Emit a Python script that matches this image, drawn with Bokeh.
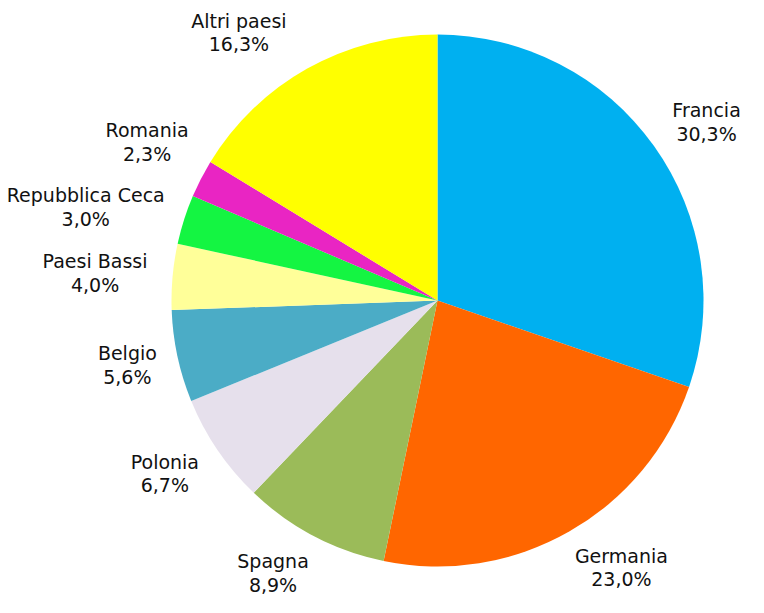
import math
from bokeh.plotting import figure
from bokeh.models import Range1d, ColumnDataSource
from bokeh.embed import file_html
from bokeh.resources import INLINE
from bokeh.core.properties import value

categories = ["Francia", "Germania", "Spagna", "Polonia", "Belgio",
              "Paesi Bassi", "Repubblica Ceca", "Romania", "Altri paesi"]
shares = [30.3, 23.0, 8.9, 6.7, 5.6, 4.0, 3.0, 2.3, 16.3]
pct_labels = ["30,3%", "23,0%", "8,9%", "6,7%", "5,6%", "4,0%", "3,0%", "2,3%", "16,3%"]
colors = ["#00B0F0", "#FF6600", "#9BBB59", "#E6E0EC", "#4BACC6",
          "#FFFF99", "#14F542", "#E925C3", "#FFFF00"]

FONT = "DejaVu Sans"
FS = 19
LINE_H = 23.5
R = 266
R_ANCHOR = R + 18
MIN_SEP = 65
CX, CY = 437, 300  # pie centre in figure pixels
W, H = 748, 597

total = sum(shares)
starts, ends, mids = [], [], []
cum = 0.0
for s in shares:
    a0 = math.pi / 2 - 2 * math.pi * cum / total
    cum += s
    a1 = math.pi / 2 - 2 * math.pi * cum / total
    starts.append(a0)
    ends.append(a1)
    mids.append((a0 + a1) / 2)

src = ColumnDataSource(dict(start=starts, end=ends, color=colors))

p = figure(width=W, height=H, output_backend="svg", toolbar_location=None,
           x_range=Range1d(-CX, W - CX), y_range=Range1d(-(H - CY), CY),
           min_border=0)
p.axis.visible = False
p.grid.visible = False
p.outline_line_color = None
p.background_fill_color = "white"

p.wedge(x=0, y=0, radius=R, start_angle="start", end_angle="end",
        direction="clock", fill_color="color", line_color=None, source=src)

centres = []
for name, pct, a in zip(categories, pct_labels, mids):
    w = max(len(name), len(pct)) * 0.57 * FS
    h = 2 * LINE_H
    c, s = math.cos(a), math.sin(a)
    cx = R_ANCHOR * c + math.copysign(w / 2, c)
    cy = R_ANCHOR * s + s * h / 2
    centres.append([cx, cy, c])

# simple overlap avoidance on the left side (labels ordered bottom -> top)
prev = None
for cen in centres:
    if cen[2] < 0:
        if prev is not None and cen[1] < prev[1] + MIN_SEP:
            cen[1] = prev[1] + MIN_SEP
        prev = cen

nx = [c[0] for c in centres]
ny = [c[1] + LINE_H / 2 for c in centres]
py_ = [c[1] - LINE_H / 2 for c in centres]

lab = ColumnDataSource(dict(nx=nx, ny=ny, py=py_, name=categories, pct=pct_labels))
common = dict(text_font=value(FONT), text_font_size=f"{FS}px", text_color="#111111",
              text_align="center", text_baseline="middle", source=lab)
p.text(x="nx", y="ny", text="name", **common)
p.text(x="nx", y="py", text="pct", **common)

open("out.html", "w").write(file_html(p, INLINE))
